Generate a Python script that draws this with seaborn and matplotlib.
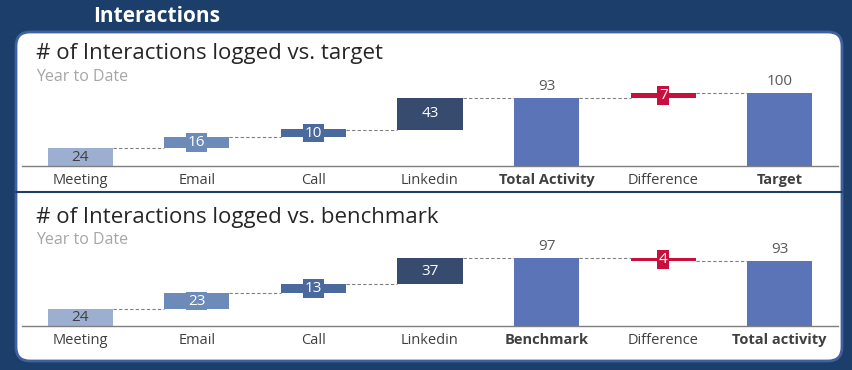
import matplotlib
matplotlib.use("Agg")
import matplotlib.pyplot as plt
from matplotlib.patches import FancyBboxPatch
import seaborn as sns

sns.set_theme(style="white")
plt.rcParams["font.family"] = ["Open Sans", "DejaVu Sans"]

# data
target_cats = ["Meeting", "Email", "Call", "Linkedin", "Total Activity", "Difference", "Target"]
target_vals = [24, 16, 10, 43, 93, 7, 100]
bench_cats = ["Meeting", "Email", "Call", "Linkedin", "Benchmark", "Difference", "Total activity"]
bench_vals = [24, 23, 13, 37, 97, -4, 93]
kinds = ["step", "step", "step", "step", "total", "diff", "total"]

NAVY = "#1b3e6b"
bar_colors = ["#9cafd0", "#6c8bb9", "#4a6a9d", "#364b6e", "#5a74b7", "#c8103e", "#5a74b7"]

W, H = 853, 370
fig = plt.figure(figsize=(W / 100, H / 100), dpi=100)
fig.patch.set_facecolor(NAVY)

# background layer in pixel coords
bg = fig.add_axes([0, 0, 1, 1])
bg.set_xlim(0, W)
bg.set_ylim(H, 0)
bg.axis("off")
bg.add_patch(FancyBboxPatch((16, 32), 826, 329, boxstyle="round,pad=0,rounding_size=14",
                            fc="white", ec="#41609f", lw=2))
bg.plot([16, 842], [192, 192], color=NAVY, lw=1.5)
bg.text(93, 17, "Interactions", color="white", fontsize=15, fontweight="bold", va="center")


def waterfall(ax, cats, vals, title, ty):
    bases, heights, levels = [], [], []
    running = 0
    for v, k in zip(vals, kinds):
        if k == "step":
            bases.append(running); heights.append(v); running += v
        elif k == "total":
            bases.append(0); heights.append(v); running = v
        else:
            bases.append(min(running, running + v)); heights.append(abs(v)); running += v
        levels.append(running)

    sns.barplot(x=cats, y=heights, hue=cats, palette=bar_colors, legend=False,
                width=0.56, saturation=1, linewidth=0, ax=ax)
    for p, b in zip(ax.patches, bases):
        p.set_y(b)

    # dashed connectors
    for i in range(len(cats) - 1):
        ax.plot([i + 0.28, i + 1 - 0.28], [levels[i], levels[i]], color="#808080",
                lw=0.8, ls=(0, (3, 2)), zorder=1)

    # value labels
    for i, (b, h, k) in enumerate(zip(bases, heights, kinds)):
        txt = str(abs(vals[i]))
        if k == "total":
            ax.annotate(txt, (i, b + h), xytext=(0, 3), textcoords="offset points",
                        ha="center", va="bottom", fontsize=11, color="#595959")
        elif i == 0:
            ax.text(i, b + h / 2, txt, ha="center", va="center", fontsize=11, color="#404040")
        else:
            ax.text(i, b + h / 2, txt, ha="center", va="center", fontsize=11, color="white",
                    bbox=dict(boxstyle="square,pad=0.12", fc=bar_colors[i], ec="none"))

    ax.set_xlim(-0.5, len(cats) - 0.5)
    ax.set_ylim(0, 130)
    ax.set_yticks([])
    ax.set_xlabel("")
    ax.set_ylabel("")
    ax.patch.set_alpha(0)
    for s in ["top", "left", "right"]:
        ax.spines[s].set_visible(False)
    ax.spines["bottom"].set_color("#7f7f7f")
    ax.spines["bottom"].set_linewidth(1)
    ax.tick_params(axis="x", length=0, pad=5, labelsize=10.5, labelcolor="#404040")
    for lab, k in zip(ax.get_xticklabels(), kinds):
        if k == "total":
            lab.set_fontweight("bold")

    bg.text(36, ty + 1, title, fontsize=16, color="#262626", va="center")
    bg.text(36, ty + 24, "Year to Date", fontsize=11.5, color="#a6a6a6", va="center")


ax1 = fig.add_axes([22 / W, (H - 166) / H, 816 / W, 130 * 0.73 / H])
waterfall(ax1, target_cats, target_vals, "# of Interactions logged vs. target", 53)

ax2 = fig.add_axes([22 / W, (H - 326) / H, 816 / W, 130 * 0.70 / H])
waterfall(ax2, bench_cats, bench_vals, "# of Interactions logged vs. benchmark", 216)

fig.savefig("out.png", dpi=100, facecolor=NAVY)
